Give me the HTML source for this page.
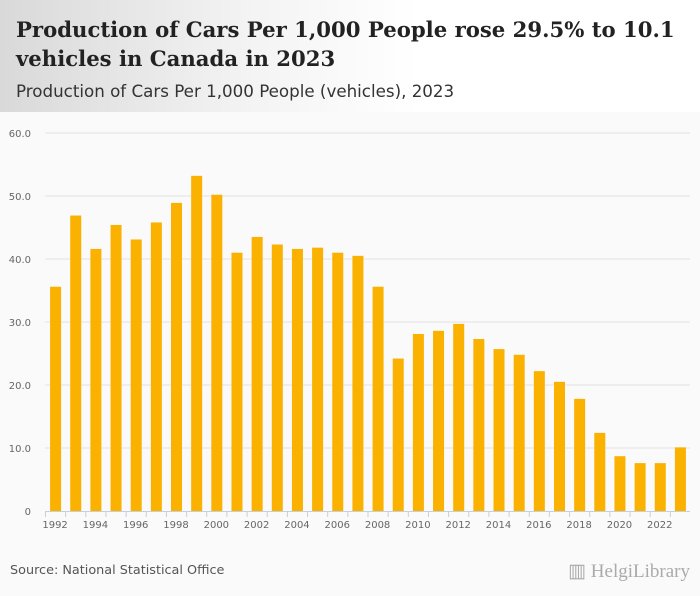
<!DOCTYPE html>
<html><head><meta charset="utf-8"><style>
body{margin:0;width:700px;height:596px;overflow:hidden;background:#fafafa;font-family:"DejaVu Sans",sans-serif}
#hdr{position:absolute;left:0;top:0;width:700px;height:112px;background:linear-gradient(90deg,#d9d9d9 0%,#f3f3f3 35%,#fff 60%)}
#title{position:absolute;left:16px;top:15px;font-family:"DejaVu Serif",serif;font-weight:bold;font-size:21.2px;line-height:29px;color:#222;white-space:nowrap}
#sub{position:absolute;left:16px;top:81px;font-size:16.7px;color:#333}
#src{position:absolute;left:10px;top:563px;font-size:12.8px;color:#555}
#logo{position:absolute;right:10px;top:560px;font-family:"Liberation Serif",serif;font-size:19px;color:#aaa}
svg{position:absolute;left:0;top:112px}
</style></head><body>
<div id="hdr"></div>
<div id="title">Production of Cars Per 1,000 People rose 29.5% to 10.1<br>vehicles in Canada in 2023</div>
<div id="sub">Production of Cars Per 1,000 People (vehicles), 2023</div>
<svg id="chart" width="700" height="430"></svg>
<div id="src">Source: National Statistical Office</div>
<div id="logo">▥ HelgiLibrary</div>
<script>
const years=[1992,1993,1994,1995,1996,1997,1998,1999,2000,2001,2002,2003,2004,2005,2006,2007,2008,2009,2010,2011,2012,2013,2014,2015,2016,2017,2018,2019,2020,2021,2022,2023];
const values=[35.6,46.9,41.6,45.4,43.1,45.8,48.9,53.2,50.2,41.0,43.5,42.3,41.6,41.8,41.0,40.5,35.6,24.2,28.1,28.6,29.7,27.3,25.7,24.8,22.2,20.5,17.8,12.4,8.7,7.6,7.6,10.1];
const yTicks=[0,10,20,30,40,50,60];
const yTickLabels=["0","10.0","20.0","30.0","40.0","50.0","60.0"];
const NS="http://www.w3.org/2000/svg";
const svg=document.getElementById('chart');
const L=45,R=690,T=21,B=399,yMax=60;
const y=v=>B-(v/yMax)*(B-T);
const band=(R-L)/years.length;
const x=i=>L+band*i;
function mk(t,a){const e=document.createElementNS(NS,t);for(const k in a)e.setAttribute(k,a[k]);svg.appendChild(e);return e;}
yTicks.forEach((v,i)=>{
  if(v>0){const g=mk('line',{x1:L,x2:R,y1:y(v),y2:y(v),stroke:'#e3e3e3','stroke-width':1});
  
  }
  const t=mk('text',{x:31,y:y(v)+4,'text-anchor':'end','font-size':10,fill:'#666'});
  t.textContent=yTickLabels[i];
  
  
});
const ax=mk('line',{x1:L,x2:R,y1:B+0.5,y2:B+0.5,stroke:'#c5cfe0','stroke-width':1});


years.forEach((yr,i)=>{
  const tk=mk('line',{x1:x(i)+0.5,x2:x(i)+0.5,y1:B,y2:B+6,stroke:'#c5cfe0'});
  
  
  const b=mk('rect',{x:x(i)+band/2-5,y:y(values[i]),width:11,height:B-y(values[i]),fill:'#fbb100'});
  
  
  if(i%2===0){const t=mk('text',{x:x(i)+band/2,y:B+17,'text-anchor':'middle','font-size':10,fill:'#666'});
  t.textContent=yr;
  
  }
});
</script>
</body></html>
